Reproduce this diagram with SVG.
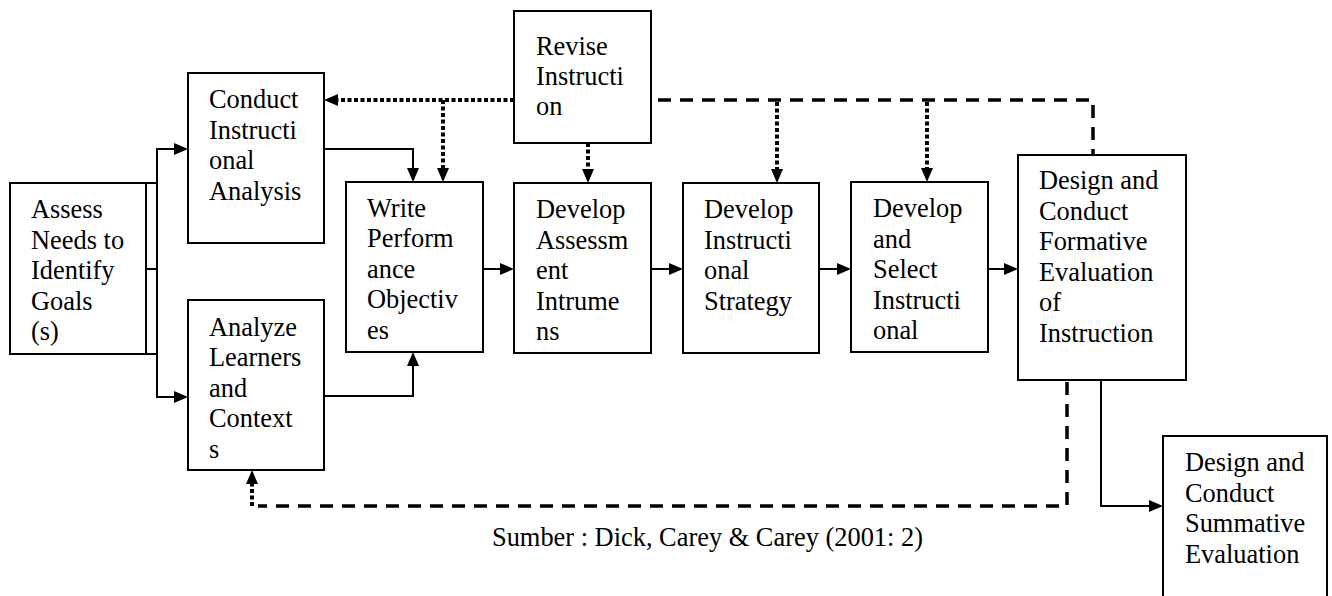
<svg xmlns="http://www.w3.org/2000/svg" width="1332" height="596" viewBox="0 0 1332 596">
<style>
  .box { fill: #fff; stroke: #000; stroke-width: 2; }
  .lbl { font-family: "Liberation Serif", "Times New Roman", serif; font-size: 26.4px; fill: #000; }
  .solid { fill: none; stroke: #000; stroke-width: 2; }
  .dot { fill: none; stroke: #000; stroke-width: 4; stroke-dasharray: 4 2.5; }
  .dash { fill: none; stroke: #000; stroke-width: 3.5; stroke-dasharray: 13 9; }
</style>
<defs>
  <marker id="ah" viewBox="0 0 14 12" refX="4" refY="6" markerWidth="14" markerHeight="12" markerUnits="userSpaceOnUse" orient="auto">
    <path d="M0,0 L14,6 L0,12 z" fill="#000"/>
  </marker>
</defs>
<rect width="1332" height="596" fill="#fff"/>

<g id="connectors">
  <path class="solid" d="M157,269 V149 H178" marker-end="url(#ah)"/>
  <path class="solid" d="M157,269 V397 H178" marker-end="url(#ah)"/>
  <path class="solid" d="M146,183 H157 M146,354 H157 M146,269 H157"/>
  <path class="solid" d="M324,149 H413 V172" marker-end="url(#ah)"/>
  <path class="solid" d="M324,396 H413 V362" marker-end="url(#ah)"/>
  <path class="dot" d="M514,100 H334" marker-end="url(#ah)"/>
  <path class="dot" d="M443,100 V172" marker-end="url(#ah)"/>
  <path class="dot" d="M588,143 V173" marker-end="url(#ah)"/>
  <path class="dash" d="M658,100 H1093 V155"/>
  <path class="dot" d="M777,102 V173" marker-end="url(#ah)"/>
  <path class="dot" d="M927,102 V172" marker-end="url(#ah)"/>
  <path class="solid" d="M483,269 H504" marker-end="url(#ah)"/>
  <path class="solid" d="M651,269 H673" marker-end="url(#ah)"/>
  <path class="solid" d="M819,269 H841" marker-end="url(#ah)"/>
  <path class="solid" d="M988,269 H1008" marker-end="url(#ah)"/>
  <path class="dash" d="M1067,382 V506 H258"/>
  <path class="dot" d="M252,506 V480" marker-end="url(#ah)"/>
  <path class="solid" d="M1101,380 V506 H1153" marker-end="url(#ah)"/>
</g>

<g id="assess">
  <rect class="box" x="10" y="183" width="136" height="171"/>
  <text class="lbl"><tspan x="31" y="218">Assess</tspan><tspan x="31" y="248.5">Needs to</tspan><tspan x="31" y="279">Identify</tspan><tspan x="31" y="309.5">Goals</tspan><tspan x="31" y="340">(s)</tspan></text>
</g>
<g id="conduct">
  <rect class="box" x="188" y="73" width="136" height="170"/>
  <text class="lbl"><tspan x="209" y="108">Conduct</tspan><tspan x="209" y="138.5">Instructi</tspan><tspan x="209" y="169">onal</tspan><tspan x="209" y="199.5">Analysis</tspan></text>
</g>
<g id="analyze">
  <rect class="box" x="188" y="300" width="136" height="170"/>
  <text class="lbl"><tspan x="209" y="335.5">Analyze</tspan><tspan x="209" y="366">Learners</tspan><tspan x="209" y="396.5">and</tspan><tspan x="209" y="427">Context</tspan><tspan x="209" y="457.5">s</tspan></text>
</g>
<g id="write">
  <rect class="box" x="346" y="182" width="137" height="170"/>
  <text class="lbl"><tspan x="367" y="216.5">Write</tspan><tspan x="367" y="247">Perform</tspan><tspan x="367" y="277.5">ance</tspan><tspan x="367" y="308">Objectiv</tspan><tspan x="367" y="338.5">es</tspan></text>
</g>
<g id="revise">
  <rect class="box" x="514" y="11" width="137" height="132"/>
  <text class="lbl"><tspan x="536" y="55">Revise</tspan><tspan x="536" y="85">Instructi</tspan><tspan x="536" y="115">on</tspan></text>
</g>
<g id="assessment">
  <rect class="box" x="514" y="183" width="137" height="170"/>
  <text class="lbl"><tspan x="536" y="218">Develop</tspan><tspan x="536" y="248.5">Assessm</tspan><tspan x="536" y="279">ent</tspan><tspan x="536" y="309.5">Intrume</tspan><tspan x="536" y="340">ns</tspan></text>
</g>
<g id="strategy">
  <rect class="box" x="683" y="183" width="136" height="170"/>
  <text class="lbl"><tspan x="704" y="218">Develop</tspan><tspan x="704" y="248.5">Instructi</tspan><tspan x="704" y="279">onal</tspan><tspan x="704" y="309.5">Strategy</tspan></text>
</g>
<g id="select">
  <rect class="box" x="851" y="182" width="137" height="170"/>
  <text class="lbl"><tspan x="873" y="217">Develop</tspan><tspan x="873" y="247.5">and</tspan><tspan x="873" y="278">Select</tspan><tspan x="873" y="308.5">Instructi</tspan><tspan x="873" y="339">onal</tspan></text>
</g>
<g id="formative">
  <rect class="box" x="1018" y="155" width="168" height="225"/>
  <text class="lbl"><tspan x="1039" y="189">Design and</tspan><tspan x="1039" y="219.5">Conduct</tspan><tspan x="1039" y="250">Formative</tspan><tspan x="1039" y="280.5">Evaluation</tspan><tspan x="1039" y="311">of</tspan><tspan x="1039" y="341.5">Instruction</tspan></text>
</g>
<g id="summative">
  <rect class="box" x="1163" y="436" width="164" height="170"/>
  <text class="lbl"><tspan x="1185" y="471">Design and</tspan><tspan x="1185" y="501.5">Conduct</tspan><tspan x="1185" y="532">Summative</tspan><tspan x="1185" y="562.5">Evaluation</tspan></text>
</g>
<text id="caption" class="lbl" x="492" y="546">Sumber : Dick, Carey &amp; Carey (2001: 2)</text>
</svg>
